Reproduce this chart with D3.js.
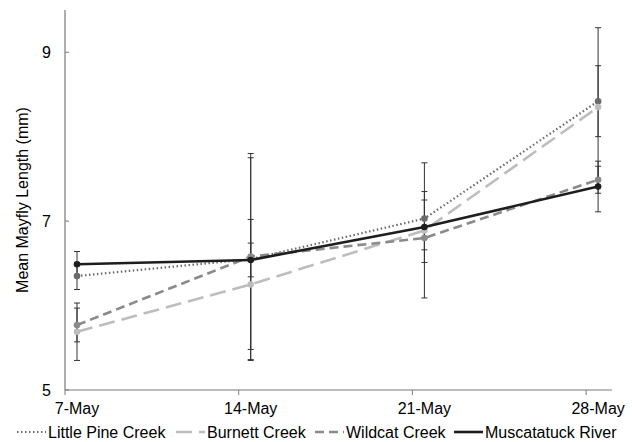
<!DOCTYPE html>
<html lang="en">
  <head>
    <meta charset="UTF-8" />
    <title>mayfly length</title>
    <script src="https://d3js.org/d3.v7.min.js"></script>
    <style>
      body { margin: 0; background: #fff; }
      text { font-family: Arial, 'Liberation Sans', sans-serif; font-size: 16px; fill: #000; }
    </style>
  </head>
  <body>
    <svg width="632" height="442"></svg>
  </body>
  <script>
    // sampling days (May) and labels
    var days = [7, 14, 21, 28]
    var dayLabels = ['7-May', '14-May', '21-May', '28-May']
    var yTicks = [5, 7, 9]

    // mean length per site
    var littlePine = [6.35, 6.55, 7.03, 8.42]
    var burnett = [5.69, 6.25, 6.89, 8.35]
    var wildcat = [5.77, 6.58, 6.80, 7.49]
    var muscatatuck = [6.49, 6.54, 6.93, 7.41]

    // error bar half widths
    var littlePineErr = [0.16, 1.2, 0.22, 0.42]
    var burnettErr = [0.34, 0.77, 0.8, 0.94]
    var wildcatErr = [0.2, 1.22, 0.14, 0.16]
    var muscatatuckErr = [0.15, 0.2, 0.42, 0.3]

    var names = ['Little Pine Creek', 'Burnett Creek', 'Wildcat Creek', 'Muscatatuck River']

    var series = [
      { name: names[0], vals: littlePine, err: littlePineErr, color: '#6a6a6a', dash: '1.5,2.5', w: 2.2 },
      { name: names[1], vals: burnett, err: burnettErr, color: '#bdbdbd', dash: '16,7', w: 2.6 },
      { name: names[2], vals: wildcat, err: wildcatErr, color: '#8a8a8a', dash: '9,5', w: 2.6 },
      { name: names[3], vals: muscatatuck, err: muscatatuckErr, color: '#1e1e1e', dash: null, w: 2.6 }
    ]

    var svg = d3.select('svg')
    var plotLeft = 65, plotRight = 612, plotTop = 10, plotBottom = 390

    var x = d3.scaleLinear().domain([6.516, 28.56]).range([plotLeft, plotRight])
    var y = d3.scaleLinear().domain([5, 9.5]).range([plotBottom, plotTop])

    // axes
    var axisColor = '#7a7a7a'
    svg.append('line').attr('x1', plotLeft).attr('x2', plotLeft).attr('y1', plotTop).attr('y2', plotBottom)
      .attr('stroke', axisColor).attr('stroke-width', 1.2)
    svg.append('line').attr('x1', plotLeft).attr('x2', plotRight).attr('y1', plotBottom).attr('y2', plotBottom)
      .attr('stroke', axisColor).attr('stroke-width', 1.2)

    // y ticks point inward
    svg.append('g').selectAll('line').data(yTicks).enter().append('line')
      .attr('x1', plotLeft).attr('x2', plotLeft + 4)
      .attr('y1', function (d) { return y(d) }).attr('y2', function (d) { return y(d) })
      .attr('stroke', axisColor)
    svg.append('g').selectAll('text').data(yTicks).enter().append('text')
      .attr('x', 51).attr('y', function (d) { return y(d) + 6 })
      .attr('text-anchor', 'end')
      .text(function (d) { return d })

    // x ticks sit a bit left of the data points
    svg.append('g').selectAll('line').data(days).enter().append('line')
      .attr('x1', function (d) { return x(d - 0.484) }).attr('x2', function (d) { return x(d - 0.484) })
      .attr('y1', plotBottom).attr('y2', plotBottom + 5)
      .attr('stroke', axisColor)
    svg.append('g').selectAll('text').data(days).enter().append('text')
      .attr('x', function (d) { return x(d) }).attr('y', 414)
      .attr('text-anchor', 'middle')
      .text(function (d, i) { return dayLabels[i] })

    svg.append('text')
      .attr('transform', 'translate(28,' + (plotBottom + plotTop) / 2 + ') rotate(-90)')
      .attr('text-anchor', 'middle')
      .text('Mean Mayfly Length (mm)')

    // error bars
    series.forEach(function (s) {
      var g = svg.append('g')
      s.vals.forEach(function (v, i) {
        var cx = x(days[i]), hi = y(v + s.err[i]), lo = y(v - s.err[i])
        g.append('line').attr('x1', cx).attr('x2', cx).attr('y1', hi).attr('y2', lo)
          .attr('stroke', '#333').attr('stroke-width', 1)
        ;[hi, lo].forEach(function (yy) {
          g.append('line').attr('x1', cx - 3).attr('x2', cx + 3).attr('y1', yy).attr('y2', yy)
            .attr('stroke', '#333').attr('stroke-width', 1)
        })
      })
    })

    // lines and markers
    var line = d3.line()
      .x(function (d, i) { return x(days[i]) })
      .y(function (d) { return y(d) })

    series.forEach(function (s) {
      svg.append('path')
        .attr('d', line(s.vals))
        .attr('fill', 'none')
        .attr('stroke', s.color)
        .attr('stroke-width', s.w)
        .attr('stroke-dasharray', s.dash)
      svg.append('g').selectAll('circle').data(s.vals).enter().append('circle')
        .attr('cx', function (d, i) { return x(days[i]) })
        .attr('cy', function (d) { return y(d) })
        .attr('r', 3.3)
        .attr('fill', s.color)
    })

    // legend
    var legendX = [17, 176, 315, 454]
    var legend = svg.append('g')
    series.forEach(function (s, i) {
      var lx = legendX[i]
      legend.append('line')
        .attr('x1', lx).attr('x2', lx + 29).attr('y1', 432).attr('y2', 432)
        .attr('stroke', s.color).attr('stroke-width', s.w)
        .attr('stroke-dasharray', s.dash)
      legend.append('text')
        .attr('x', lx + 31).attr('y', 437.5)
        .text(s.name)
    })
  </script>
</html>
